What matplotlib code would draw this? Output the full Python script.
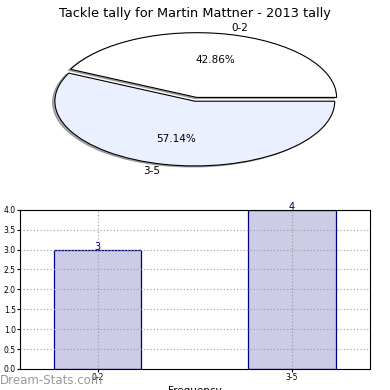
import matplotlib
matplotlib.use('Agg')
import matplotlib.pyplot as plt

# tally data
categories = ['0-2', '3-5']
counts = [3, 4]
pie_colors = ['#ffffff', '#eaf0fe']

fig = plt.figure(figsize=(3.9, 3.9), dpi=100)

# pie on top, squashed (no equal aspect)
ax1 = fig.add_axes([0.051, 0.533, 0.897, 0.415])
ax1.pie(counts, labels=categories, colors=pie_colors, explode=(0.06, 0),
        autopct='%1.2f%%', shadow={'ox': -0.012, 'oy': -0.012, 'shade': 0.6},
        startangle=0,
        wedgeprops={'edgecolor': 'black', 'linewidth': 0.8},
        textprops={'fontsize': 7.5})
ax1.set_aspect('auto')
ax1.set_title('Tackle tally for Martin Mattner - 2013 tally', fontsize=9.3, pad=2)

# bar chart below
ax2 = fig.add_axes([0.051, 0.054, 0.897, 0.408])
x = list(range(len(categories)))
ax2.bar(x, counts, width=0.45, color='#ccccE6', edgecolor='navy', linewidth=0.9)
for xi, c in zip(x, counts):
    ax2.text(xi, c - 0.05, str(c), ha='center', va='bottom', color='navy', fontsize=7)
ax2.set_xlim(-0.4, 1.4)
ax2.set_ylim(0, 4)
ax2.set_xticks(x)
ax2.set_xticklabels(categories)
ax2.set_yticks([0, 0.5, 1, 1.5, 2, 2.5, 3, 3.5, 4])
ax2.tick_params(labelsize=5.5, length=2, pad=1)
ax2.set_axisbelow('line')
ax2.grid(True, linestyle=(0, (1, 2)), color='#999999', linewidth=0.8)
ax2.set_xlabel('Frequency', fontsize=7.5, labelpad=3)

fig.text(0.0, 0.025, 'Dream-Stats.com', color='#999999', fontsize=8.5, va='center', ha='left')

fig.savefig('out.png', dpi=100)
